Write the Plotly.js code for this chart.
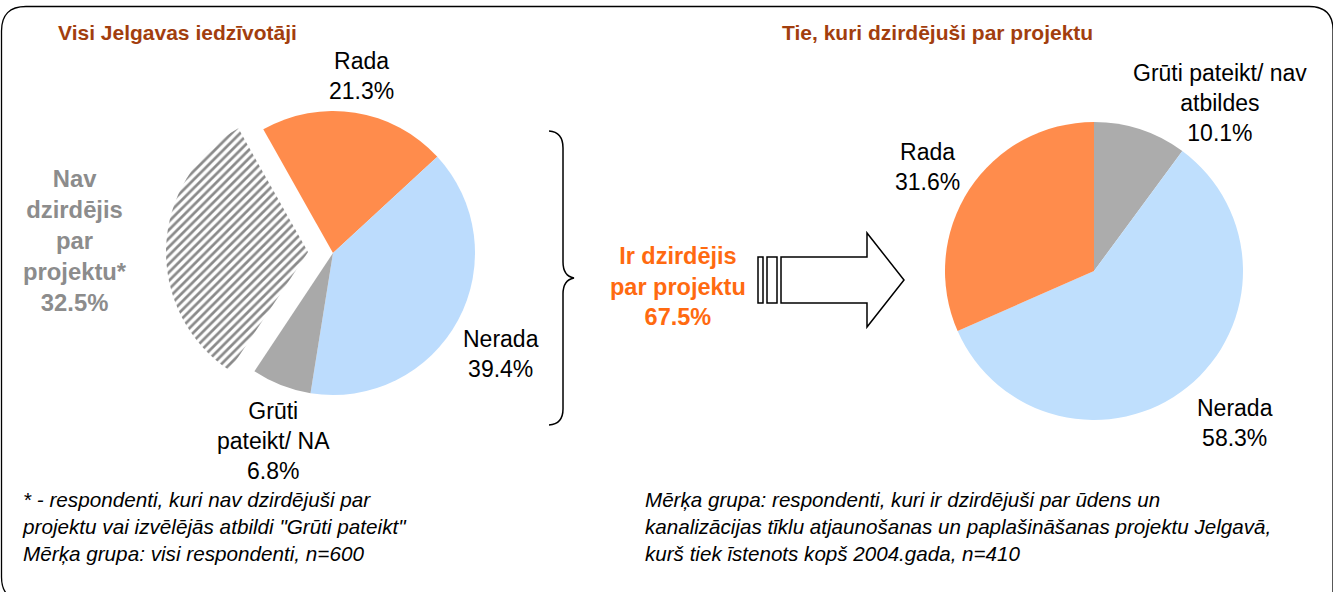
<!DOCTYPE html>
<html>
<head>
<meta charset="utf-8">
<script src="https://cdn.plot.ly/plotly-3.0.1.min.js"></script>
<style>
html,body{margin:0;padding:0;background:#fff;}
#chart{width:1333px;height:592px;}
</style>
</head>
<body>
<div id="chart"></div>
<script>
// ---- data ----
const leftTitle = 'Visi Jelgavas iedzīvotāji';
const rightTitle = 'Tie, kuri dzirdējuši par projektu';
const leftLabels = ['Rada', 'Nerada', 'Grūti<br>pateikt/ NA', 'Nav<br>dzirdējis<br>par<br>projektu*'];
const leftValues = [21.3, 39.4, 6.8, 32.5];
const rightLabels = ['Grūti pateikt/ nav<br>atbildes', 'Nerada', 'Rada'];
const rightValues = [10.1, 58.3, 31.6];
const heardLabel = 'Ir dzirdējis<br>par projektu';
const heardValue = 67.5;
const noteLeft = ['* - respondenti, kuri nav dzirdējuši par', 'projektu vai izvēlējās atbildi "Grūti pateikt"', 'Mērķa grupa: visi respondenti, n=600'];
const noteRight = ['Mērķa grupa: respondenti, kuri ir dzirdējuši par ūdens un', 'kanalizācijas tīklu atjaunošanas un paplašināšanas projektu Jelgavā,', 'kurš tiek īstenots kopš 2004.gada, n=410'];

// ---- layout helpers ----
const W = 1333, H = 592;
const X = px => px / W;
const Y = py => 1 - py / H;
const FONT = 'Arial, "Liberation Sans", sans-serif';
function path(cmds) {
  return cmds.map(c => {
    if (c[0] === 'Z') return 'Z';
    const pts = [];
    for (let i = 1; i < c.length; i += 2) pts.push(X(c[i]).toFixed(5) + ',' + Y(c[i + 1]).toFixed(5));
    return c[0] + pts.join(' ');
  }).join(' ');
}
function domainFor(cx, cy, r, pull) {
  const hx = r * (1 + pull), hy = r * (1 + pull);
  return { x: [X(cx - hx), X(cx + hx)], y: [Y(cy + hy), Y(cy - hy)] };
}
const fmt = v => v.toFixed(1) + '%';

const leftPull = 0.176;
const traces = [
  {
    type: 'pie', labels: leftLabels, values: leftValues, sort: false,
    direction: 'clockwise', rotation: -29.4,
    pull: [0, 0, 0, leftPull],
    textinfo: 'none', hoverinfo: 'label+percent', showlegend: false,
    domain: domainFor(333, 253, 142, leftPull),
    marker: {
      colors: ['#ff8c4c', '#bcdcfd', '#a9a9a9', '#ffffff'],
      line: { width: 0 },
      pattern: { shape: ['', '', '', '/'], fgcolor: '#8a8a8a', bgcolor: '#ffffff', size: 6, solidity: 0.45 }
    }
  },
  {
    type: 'pie', labels: rightLabels, values: rightValues, sort: false,
    direction: 'clockwise', rotation: 0,
    textinfo: 'none', hoverinfo: 'label+percent', showlegend: false,
    domain: domainFor(1094, 271, 149, 0),
    marker: {
      colors: ['#acacac', '#bfdffd', '#ff8c4c'],
      line: { width: 0 }
    }
  }
];

const black = '#000000';
function lab(text, x, y, opts) {
  return Object.assign({
    text: text, x: X(x), y: Y(y), xref: 'paper', yref: 'paper',
    showarrow: false, xanchor: 'center', yanchor: 'middle', align: 'center',
    font: { family: FONT, size: 23, color: black }
  }, opts || {});
}
const titleFont = { family: FONT, size: 21, color: '#a23e0e', weight: 'bold' };
const annotations = [
  lab('<b>' + leftTitle + '</b>', 178, 33, { font: titleFont }),
  lab('<b>' + rightTitle + '</b>', 937, 33, { font: titleFont }),
  lab(leftLabels[0] + '<br>' + fmt(leftValues[0]), 361, 76),
  lab(leftLabels[1] + '<br>' + fmt(leftValues[1]), 501, 354),
  lab(leftLabels[2] + '<br>' + fmt(leftValues[2]), 273, 441),
  lab('<b>' + leftLabels[3] + '<br>' + fmt(leftValues[3]) + '</b>', 75, 241,
      { font: { family: FONT, size: 23.8, color: '#8c8c8c' } }),
  lab('<b>' + heardLabel + '<br>' + fmt(heardValue) + '</b>', 678, 286,
      { font: { family: FONT, size: 23.5, color: '#ff6a10' } }),
  lab(rightLabels[0] + '<br>' + fmt(rightValues[0]), 1220, 103),
  lab(rightLabels[1] + '<br>' + fmt(rightValues[1]), 1235, 423),
  lab(rightLabels[2] + '<br>' + fmt(rightValues[2]), 927, 167),
  lab('<i>' + noteLeft.join('<br>') + '</i>', 20, 526,
      { xanchor: 'left', align: 'left', font: { family: FONT, size: 20.7, color: black } }),
  lab('<i>' + noteRight.join('<br>') + '</i>', 643, 526,
      { xanchor: 'left', align: 'left', font: { family: FONT, size: 20.6, color: black } })
];

const lineStyle = { color: black, width: 1.5 };
const shapes = [
  { type: 'path', xref: 'paper', yref: 'paper', line: { color: black, width: 1.3 },
    path: path([['M', 24, 600], ['Q', 1.5, 600, 1.5, 577], ['L', 1.5, 31], ['Q', 1.5, 6.5, 26, 6.5],
                ['L', 1309, 6.5], ['Q', 1333, 6.5, 1333, 30], ['L', 1333, 600]]) },
  { type: 'path', xref: 'paper', yref: 'paper', line: lineStyle,
    path: path([['M', 549, 131], ['Q', 563, 132, 563, 148], ['L', 563, 262], ['Q', 563, 276, 574, 278],
                ['Q', 563, 280, 563, 294], ['L', 563, 409], ['Q', 563, 424, 549, 425]]) },
  { type: 'rect', xref: 'paper', yref: 'paper', x0: X(758), x1: X(763), y0: Y(257), y1: Y(303),
    line: lineStyle, fillcolor: '#ffffff' },
  { type: 'rect', xref: 'paper', yref: 'paper', x0: X(767), x1: X(777), y0: Y(257), y1: Y(303),
    line: lineStyle, fillcolor: '#ffffff' },
  { type: 'path', xref: 'paper', yref: 'paper', line: lineStyle, fillcolor: '#ffffff',
    path: path([['M', 781, 257], ['L', 867, 257], ['L', 867, 233], ['L', 904, 280], ['L', 867, 327],
                ['L', 867, 303], ['L', 781, 303], ['Z']]) }
];

const layout = {
  width: W, height: H,
  margin: { l: 0, r: 0, t: 0, b: 0 },
  paper_bgcolor: '#ffffff', plot_bgcolor: '#ffffff',
  showlegend: false,
  annotations: annotations,
  shapes: shapes
};
Plotly.newPlot('chart', traces, layout, { displayModeBar: false, staticPlot: true });
</script>
</body>
</html>
